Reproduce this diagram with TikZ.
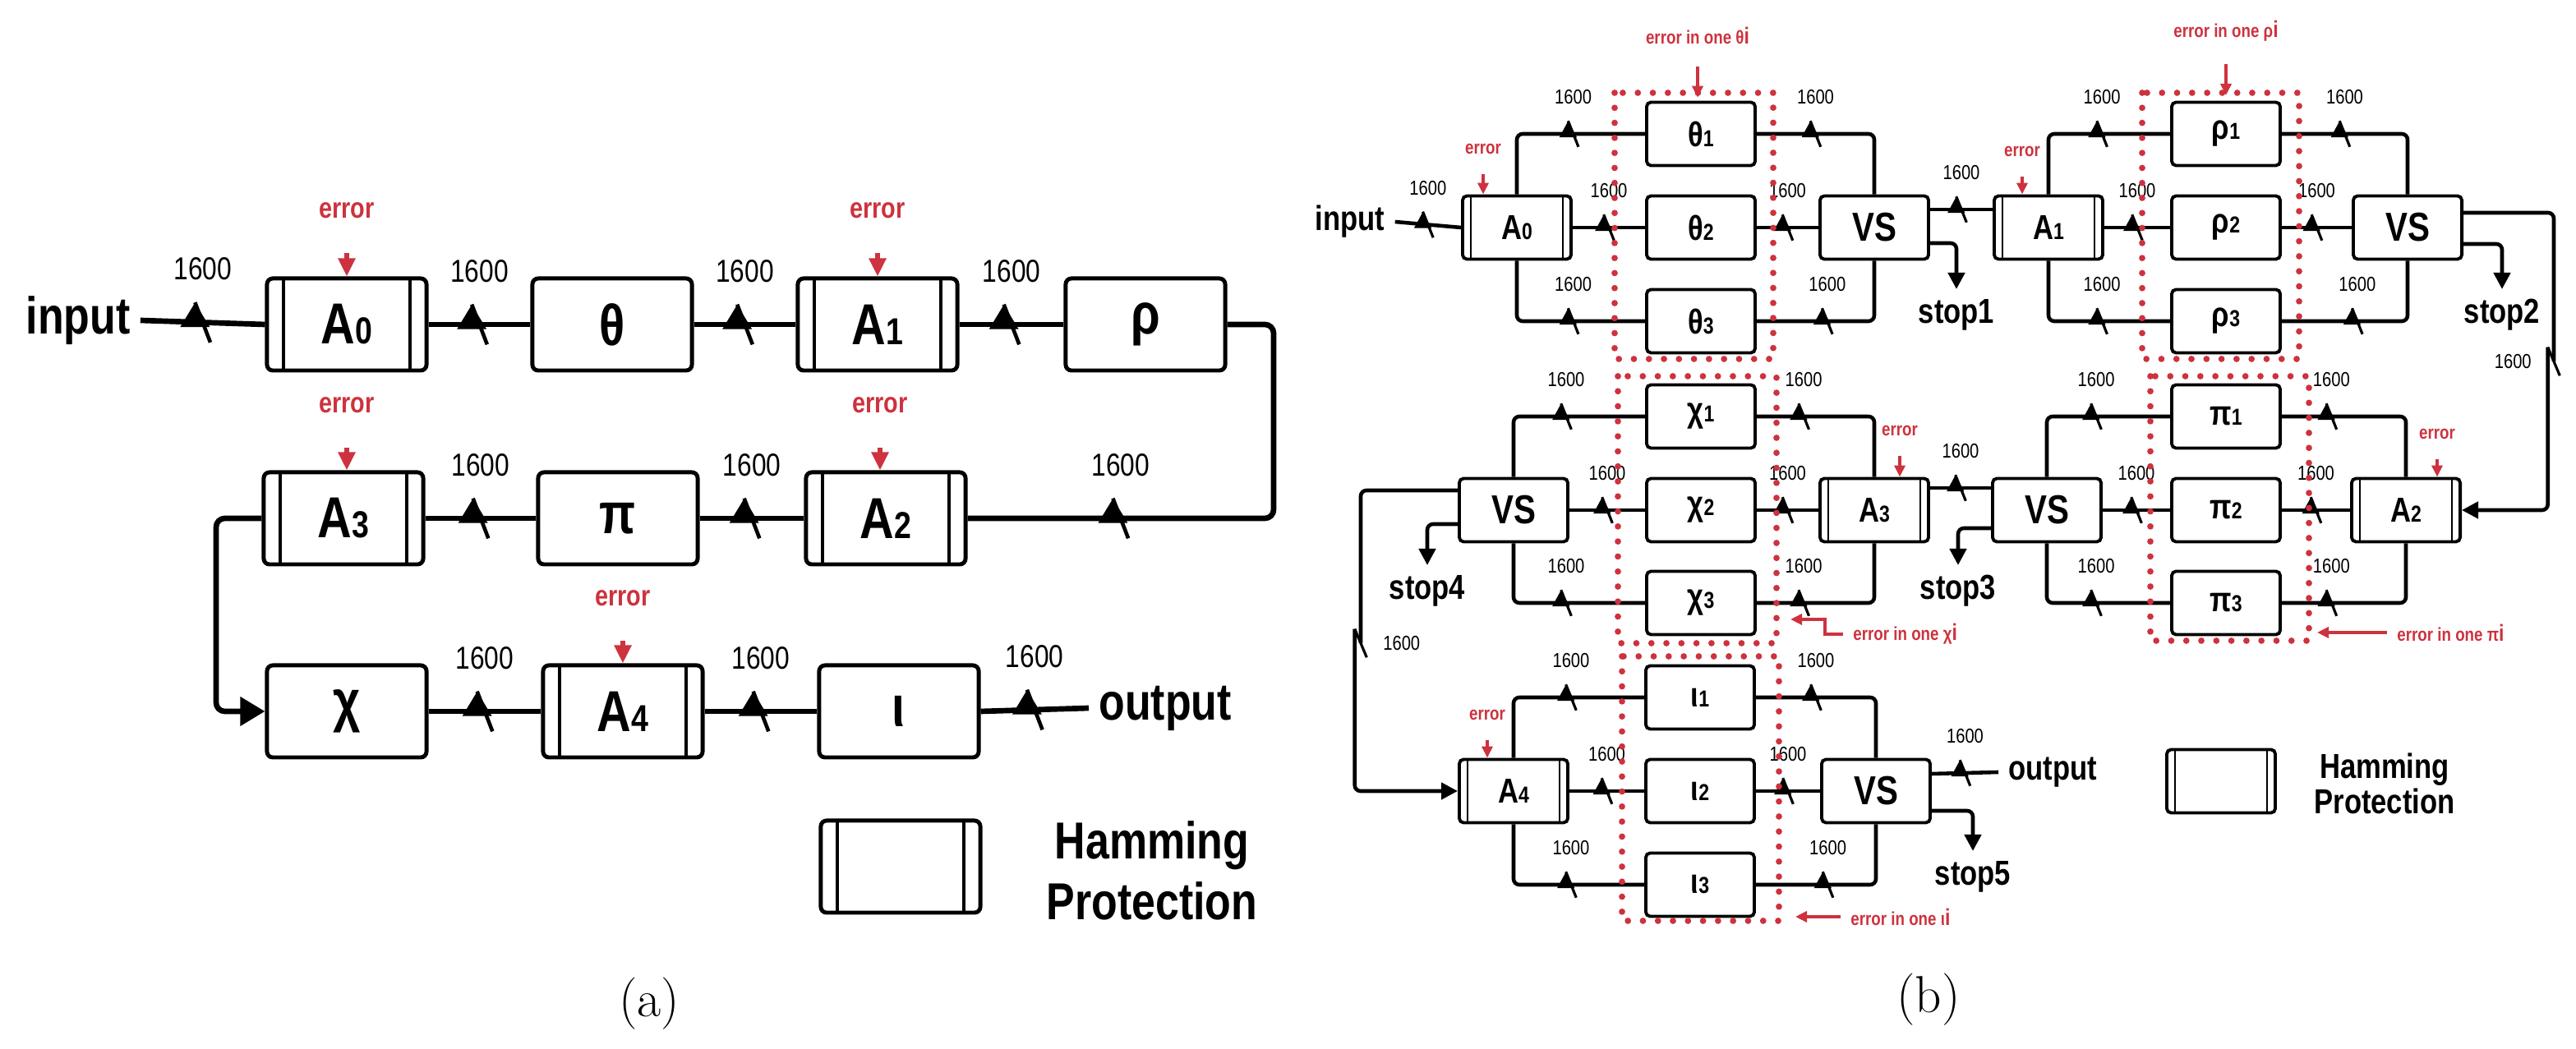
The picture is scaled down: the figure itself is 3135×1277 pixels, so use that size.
\documentclass[tikz,border=0pt]{standalone}
\usepackage{fontspec}
\setmainfont{Liberation Sans}[FakeStretch=0.82]
\newfontfamily\capfont{Latin Modern Roman}
\usetikzlibrary{arrows.meta,calc}
\definecolor{er}{RGB}{205,50,62}
\newcommand\sbs[1]{{\fontsize{13}{13}\selectfont #1}}
\newcommand\sbb[1]{{\fontsize{8}{8}\selectfont #1}}
\tikzset{
 abox/.style={draw,line width=1.4pt,rounded corners=2pt,minimum width=1.94cm,minimum height=1.12cm,font=\fontsize{20}{20}\selectfont\bfseries,inner sep=0pt},
 hama/.style={abox,path picture={\draw[line width=1.1pt] ([xshift=0.2cm]path picture bounding box.north west) -- ([xshift=0.2cm]path picture bounding box.south west) ([xshift=-0.2cm]path picture bounding box.north east) -- ([xshift=-0.2cm]path picture bounding box.south east);}},
 bbox/.style={draw,line width=1.1pt,rounded corners=1.5pt,minimum width=1.32cm,minimum height=0.77cm,font=\fontsize{12}{12}\selectfont\bfseries,inner sep=0pt},
 hamb/.style={bbox,path picture={\draw[line width=0.8pt] ([xshift=0.1cm]path picture bounding box.north west) -- ([xshift=0.1cm]path picture bounding box.south west) ([xshift=-0.1cm]path picture bounding box.north east) -- ([xshift=-0.1cm]path picture bounding box.south east);}},
 wa/.style={line width=1.9pt,rounded corners=3pt,-{Triangle[length=0.3cm,width=0.34cm]}},
 wb/.style={line width=1.3pt,rounded corners=2pt,-{Triangle[length=0.2cm,width=0.2cm]}},
 pa/.style={line width=1.9pt,rounded corners=3pt},
 pb/.style={line width=1.3pt,rounded corners=2pt},
 tka/.style={inner sep=0pt,minimum width=0.12cm,minimum height=0.42cm,append after command={(\tikzlastnode.north west) edge[-,line width=1.3pt] (\tikzlastnode.south east)}},
 tkb/.style={inner sep=0pt,minimum width=0.08cm,minimum height=0.27cm,append after command={(\tikzlastnode.north west) edge[-,line width=0.9pt] (\tikzlastnode.south east)}},
 tkv/.style={inner sep=0pt,minimum width=0.1cm,minimum height=0.3cm,append after command={(\tikzlastnode.north west) edge[-,line width=0.9pt] (\tikzlastnode.south east)}},
 la/.style={font=\fontsize{11}{11}\selectfont,label distance=0.12cm},
 lb/.style={font=\fontsize{7}{7}\selectfont,label distance=0.06cm},
 erta/.style={text=er,font=\fontsize{10}{10}\selectfont\bfseries},
 ertb/.style={text=er,font=\fontsize{6.5}{6.5}\selectfont\bfseries},
 eaa/.style={draw=er,line width=1.6pt,-{Triangle[length=0.22cm,width=0.2cm]}},
 eab/.style={draw=er,line width=1.1pt,-{Triangle[length=0.14cm,width=0.13cm]}},
 dotb/.style={draw=er,line width=2.2pt,dash pattern=on 0pt off 5.2pt,line cap=round},
 big/.style={font=\fontsize{18}{18}\selectfont\bfseries},
 mid/.style={font=\fontsize{12}{12}\selectfont\bfseries},
}
\begin{document}
\begin{tikzpicture}[x=0.01cm,y=-0.01cm]
\useasboundingbox (0,0) rectangle (3135,1277);
% ---------- panel (a)
\node[big] (in) at (95,390) {input};
\node[hama] (A0) at (422,395) {A\sbs{0}};
\node[abox] (th) at (745,395) {θ};
\node[hama] (A1) at (1068,395) {A\sbs{1}};
\node[abox] (rho) at (1394,395) {ρ};
\node[hama] (A3) at (418,631) {A\sbs{3}};
\node[abox] (pi) at (752,631) {π};
\node[hama] (A2) at (1078,631) {A\sbs{2}};
\node[abox] (chi) at (422,866) {χ};
\node[hama] (A4) at (758,866) {A\sbs{4}};
\node[abox] (io) at (1094,866) {ι};
\node[big,anchor=west] (out) at (1325,862) {output};
\coordinate (ra) at (1550,500);
\coordinate (la) at (263,750);
\draw[wa] (in.east) -- node[tka,label={[la]above:1600}]{} (A0.west);
\draw[wa] (A0.east) -- node[tka,label={[la]above:1600}]{} (th.west);
\draw[wa] (th.east) -- node[tka,label={[la]above:1600}]{} (A1.west);
\draw[wa] (A1.east) -- node[tka,label={[la]above:1600}]{} (rho.west);
\draw[wa] (rho.east) -| (ra) |- node[pos=0.75,tka,label={[la]above:1600}]{} (A2.east);
\draw[wa] (A2.west) -- node[tka,label={[la]above:1600}]{} (pi.east);
\draw[wa] (pi.west) -- node[tka,label={[la]above:1600}]{} (A3.east);
\draw[wa] (A3.west) -| (la) |- (chi.west);
\draw[wa] (chi.east) -- node[tka,label={[la]above:1600}]{} (A4.west);
\draw[wa] (A4.east) -- node[tka,label={[la]above:1600}]{} (io.west);
\draw[wa] (io.east) -- node[tka,label={[la]above:1600}]{} (out.west);
\foreach \n/\x/\y in {A0/422/256,A1/1068/256,A3/422/493,A2/1071/493,A4/758/728}{
 \node[erta] (e\n) at (\x,\y) {error};
 \draw[eaa] ([yshift=-0.3cm]e\n.south) -- (e\n |- \n.north);
}
\node[hama] (lega) at (1096,1055) {};
\node[big,align=center] (legat) at (1402,1060) {Hamming\\[0.1cm]Protection};
\node[font=\capfont\fontsize{18}{18}\selectfont] (capa) at (790,1222) {(a)};
% ---------- panel (b)
\node[mid] (inb) at (1643,270) {input};
\node[hamb] (B0) at (1846,277) {A\sbb{0}};
\node[bbox] (t1) at (2070,163) {θ\sbb{1}};
\node[bbox] (t2) at (2070,277) {θ\sbb{2}};
\node[bbox] (t3) at (2070,391) {θ\sbb{3}};
\node[bbox,font=\fontsize{14}{14}\selectfont\bfseries] (V1) at (2281,277) {VS};
\node[hamb] (B1) at (2493,277) {A\sbb{1}};
\node[bbox] (r1) at (2709,163) {ρ\sbb{1}};
\node[bbox] (r2) at (2709,277) {ρ\sbb{2}};
\node[bbox] (r3) at (2709,391) {ρ\sbb{3}};
\node[bbox,font=\fontsize{14}{14}\selectfont\bfseries] (V2) at (2930,277) {VS};
\node[mid,anchor=north] (s1) at (2381,352) {stop1};
\node[mid,anchor=north] (s2) at (3045,352) {stop2};
\node[bbox,font=\fontsize{14}{14}\selectfont\bfseries] (V4) at (1842,621) {VS};
\node[bbox] (c1) at (2070,507) {χ\sbb{1}};
\node[bbox] (c2) at (2070,621) {χ\sbb{2}};
\node[bbox] (c3) at (2070,734) {χ\sbb{3}};
\node[hamb] (B3) at (2281,621) {A\sbb{3}};
\node[bbox,font=\fontsize{14}{14}\selectfont\bfseries] (V3) at (2491,621) {VS};
\node[bbox] (p1) at (2709,507) {π\sbb{1}};
\node[bbox] (p2) at (2709,621) {π\sbb{2}};
\node[bbox] (p3) at (2709,734) {π\sbb{3}};
\node[hamb] (B2) at (2928,621) {A\sbb{2}};
\node[mid,anchor=north] (s3) at (2383,688) {stop3};
\node[mid,anchor=north] (s4) at (1737,688) {stop4};
\node[hamb] (B4) at (1842,963) {A\sbb{4}};
\node[bbox] (i1) at (2069,849) {ι\sbb{1}};
\node[bbox] (i2) at (2069,963) {ι\sbb{2}};
\node[bbox] (i3) at (2069,1077) {ι\sbb{3}};
\node[bbox,font=\fontsize{14}{14}\selectfont\bfseries] (V5) at (2283,963) {VS};
\node[mid,anchor=west] (outb) at (2432,940) {output};
\node[mid,anchor=north] (s5) at (2401,1036) {stop5};
\coordinate (rb) at (3108,440);
\coordinate (lb) at (1656,783);
% top wires
\draw[wb] (inb.east) -- node[tkb,label={[lb]above:1600}]{} (B0.west);
\draw[wb] (B0.north) |- node[pos=0.72,tkb,label={[lb]above:1600}]{} (t1.west);
\draw[wb] (B0.east) -- node[tkb,label={[lb]above:1600}]{} (t2.west);
\draw[wb] (B0.south) |- node[pos=0.72,tkb,label={[lb]above:1600}]{} (t3.west);
\draw[wb] (t1.east) -| node[pos=0.25,tkb,label={[lb]above:1600}]{} (V1.north);
\draw[wb] (t2.east) -- node[tkb,label={[lb]above:1600}]{} (V1.west);
\draw[wb] (t3.east) -| node[pos=0.3,tkb,label={[lb]above:1600}]{} (V1.south);
\draw[wb] ([yshift=0.22cm]V1.east) -- node[tkb,label={[lb]above:1600}]{} ([yshift=0.22cm]B1.west);
\draw[wb] ([yshift=-0.19cm]V1.east) -| (s1.north);
\draw[wb] (B1.north) |- node[pos=0.72,tkb,label={[lb]above:1600}]{} (r1.west);
\draw[wb] (B1.east) -- node[tkb,label={[lb]above:1600}]{} (r2.west);
\draw[wb] (B1.south) |- node[pos=0.72,tkb,label={[lb]above:1600}]{} (r3.west);
\draw[wb] (r1.east) -| node[pos=0.25,tkb,label={[lb]above:1600}]{} (V2.north);
\draw[wb] (r2.east) -- node[tkb,label={[lb]above:1600}]{} (V2.west);
\draw[wb] (r3.east) -| node[pos=0.3,tkb,label={[lb]above:1600}]{} (V2.south);
\draw[wb] ([yshift=-0.2cm]V2.east) -| (s2.north);
\draw[wb] ([yshift=0.18cm]V2.east) -| (rb) node[tkv,label={[lb]left:1600}]{} |- (B2.east);
% middle wires
\draw[wb] (B2.north) |- node[pos=0.8,tkb,label={[lb]above:1600}]{} (p1.east);
\draw[wb] (B2.west) -- node[tkb,label={[lb]above:1600}]{} (p2.east);
\draw[wb] (B2.south) |- node[pos=0.8,tkb,label={[lb]above:1600}]{} (p3.east);
\draw[wb] (p1.west) -| node[pos=0.3,tkb,label={[lb]above:1600}]{} (V3.north);
\draw[wb] (p2.west) -- node[tkb,label={[lb]above:1600}]{} (V3.east);
\draw[wb] (p3.west) -| node[pos=0.3,tkb,label={[lb]above:1600}]{} (V3.south);
\draw[wb] ([yshift=0.27cm]V3.west) -- node[tkb,label={[lb]above:1600}]{} ([yshift=0.27cm]B3.east);
\draw[wb] ([yshift=-0.22cm]V3.west) -| (s3.north);
\draw[wb] (B3.north) |- node[pos=0.8,tkb,label={[lb]above:1600}]{} (c1.east);
\draw[wb] (B3.west) -- node[tkb,label={[lb]above:1600}]{} (c2.east);
\draw[wb] (B3.south) |- node[pos=0.8,tkb,label={[lb]above:1600}]{} (c3.east);
\draw[wb] (c1.west) -| node[pos=0.3,tkb,label={[lb]above:1600}]{} (V4.north);
\draw[wb] (c2.west) -- node[tkb,label={[lb]above:1600}]{} (V4.east);
\draw[wb] (c3.west) -| node[pos=0.3,tkb,label={[lb]above:1600}]{} (V4.south);
\draw[wb] ([yshift=-0.17cm]V4.west) -| (s4.north);
\draw[wb] ([yshift=0.24cm]V4.west) -| (lb) node[tkv,label={[lb]right:1600}]{} |- (B4.west);
% bottom wires
\draw[wb] (B4.north) |- node[pos=0.72,tkb,label={[lb]above:1600}]{} (i1.west);
\draw[wb] (B4.east) -- node[tkb,label={[lb]above:1600}]{} (i2.west);
\draw[wb] (B4.south) |- node[pos=0.72,tkb,label={[lb]above:1600}]{} (i3.west);
\draw[wb] (i1.east) -| node[pos=0.25,tkb,label={[lb]above:1600}]{} (V5.north);
\draw[wb] (i2.east) -- node[tkb,label={[lb]above:1600}]{} (V5.west);
\draw[wb] (i3.east) -| node[pos=0.3,tkb,label={[lb]above:1600}]{} (V5.south);
\draw[wb] ([yshift=0.21cm]V5.east) -- node[tkb,label={[lb]above:1600}]{} (outb.west);
\draw[wb] ([yshift=-0.24cm]V5.east) -| (s5.north);
% dotted groups
\draw[dotb] (1965,113) rectangle (2158,437);
\draw[dotb] (2607,113) rectangle (2798,437);
\draw[dotb] (1969,458) rectangle (2162,783);
\draw[dotb] (2617,458) rectangle (2810,780);
\draw[dotb] (1974,799) rectangle (2165,1121);
% error marks (b)
\foreach \n/\x/\y in {B0/1805/181,B1/2461/184,B3/2312/524,B2/2966/528,B4/1810/870}{
 \node[ertb] (e\n) at (\x,\y) {error};
 \draw[eab] ([yshift=-0.12cm]e\n.south) -- (e\n |- \n.north);
}
\node[ertb] (et) at (2066,43) {error in one θ\sbb{i}};
\draw[eab] ([yshift=-0.15cm]et.south) -- ++(0,38);
\node[ertb] (er) at (2709,38) {error in one ρ\sbb{i}};
\draw[eab] ([yshift=-0.15cm]er.south) -- ++(0,38);
\node[ertb,anchor=west] (ec) at (2243,772) {error in one χ\sbb{i}};
\draw[eab] (ec.west) -| ++(-22,-18) -- ++(-42,0);
\node[ertb,anchor=west] (ep) at (2905,770) {error in one π\sbb{i}};
\draw[eab] (ep.west) -- ++(-85,0);
\node[ertb,anchor=west] (ei) at (2240,1116) {error in one ι\sbb{i}};
\draw[eab] (ei.west) -- ++(-55,0);
\node[hamb] (legb) at (2703,951) {};
\node[mid,align=center] (legbt) at (2902,954) {Hamming\\Protection};
\node[font=\capfont\fontsize{18}{18}\selectfont] (capb) at (2347,1217) {(b)};
\end{tikzpicture}
\end{document}
